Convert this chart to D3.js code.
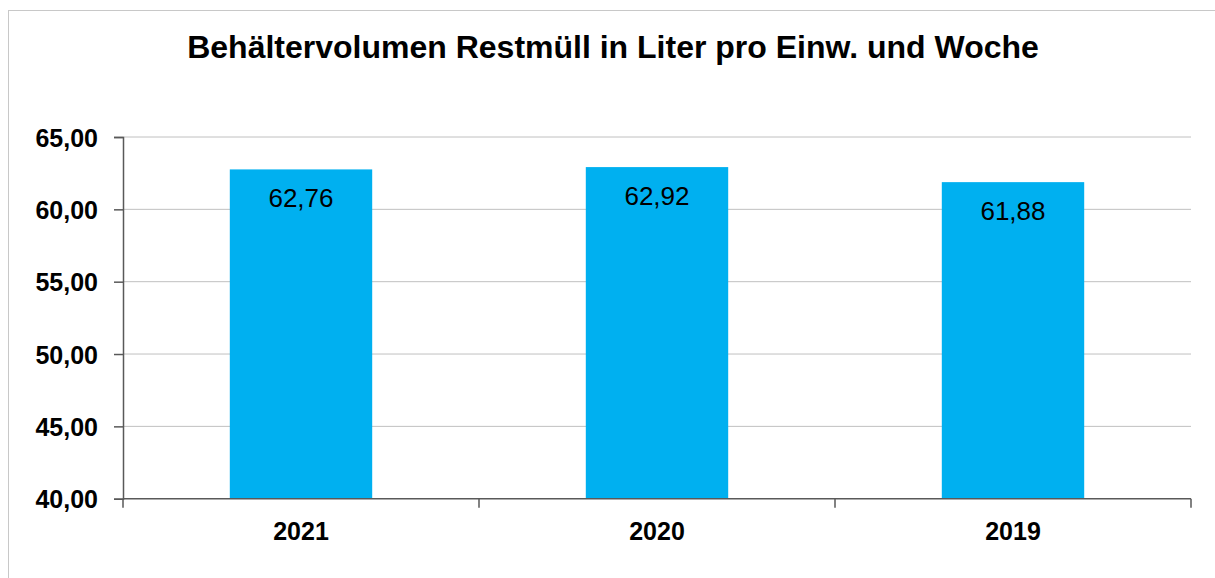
<!DOCTYPE html>
<html>
<head>
<meta charset="utf-8">
<script src="https://cdn.jsdelivr.net/npm/d3@7"></script>
<style>
  body { margin: 0; background: #fff; }
  text { font-family: "Liberation Sans", Arial, sans-serif; fill: #000; }
</style>
</head>
<body>
<svg id="chart" width="1215" height="578"></svg>
<script>
// data
var years = ["2021", "2020", "2019"];
var volumes = [62.76, 62.92, 61.88];
var yTicks = [40, 45, 50, 55, 60, 65];
var chartTitle = "Behältervolumen Restmüll in Liter pro Einw. und Woche";

var svg = d3.select("#chart");

// outer frame, runs off the right and bottom edges like the screenshot
svg.append("rect")
    .attr("x", 8.5).attr("y", 10.5)
    .attr("width", 1230).attr("height", 590)
    .style("fill", "none")
    .style("stroke", "#c8c8c8")
    .style("stroke-width", 1);

var plotLeft = 123, plotRight = 1191, plotTop = 137, plotBottom = 498.7;

var x = d3.scaleBand()
    .domain(years)
    .range([plotLeft, plotRight])
    .paddingInner(0.6)
    .paddingOuter(0.3);

var y = d3.scaleLinear()
    .domain([40, 65])
    .range([plotBottom, plotTop]);

var fmt = function (d) { return d3.format(".2f")(d).replace(".", ","); };

// grid lines
svg.append("g").selectAll("line")
    .data(yTicks.filter(function (d) { return d > 40; }))
    .enter().append("line")
    .attr("x1", plotLeft).attr("x2", plotRight)
    .attr("y1", function (d) { return y(d); })
    .attr("y2", function (d) { return y(d); })
    .style("stroke", "#c0c0c0")
    .style("stroke-width", 1);

// bars
svg.append("g").selectAll("rect")
    .data(volumes)
    .enter().append("rect")
    .attr("x", function (d, i) { return x(years[i]); })
    .attr("y", function (d) { return y(d); })
    .attr("width", x.bandwidth())
    .attr("height", function (d) { return plotBottom - y(d); })
    .style("fill", "#00b0f0");

// value labels inside the bars
svg.append("g").selectAll("text")
    .data(volumes)
    .enter().append("text")
    .attr("x", function (d, i) { return x(years[i]) + x.bandwidth() / 2; })
    .attr("y", function (d) { return y(d) + 38; })
    .attr("text-anchor", "middle")
    .style("font-size", "26px")
    .text(fmt);

// y axis
var yAxis = d3.axisLeft(y)
    .tickValues(yTicks)
    .tickSize(9)
    .tickPadding(16)
    .tickFormat(fmt);

var gy = svg.append("g")
    .attr("transform", "translate(" + plotLeft + ",0)")
    .call(yAxis);
gy.select(".domain").style("stroke", "#595959").style("stroke-width", 1.5);
gy.selectAll(".tick line").style("stroke", "#595959").style("stroke-width", 1.5);
gy.selectAll(".tick text")
    .style("font-size", "25px")
    .style("font-weight", "bold")
    .style("font-family", "'Liberation Sans', Arial, sans-serif")
    .style("fill", "#000")
    .attr("dy", "0.36em");

// x axis: ticks between categories
var xEdges = d3.scaleLinear().domain([0, years.length]).range([plotLeft, plotRight]);
svg.append("line")
    .attr("x1", plotLeft).attr("x2", plotRight)
    .attr("y1", plotBottom).attr("y2", plotBottom)
    .style("stroke", "#595959").style("stroke-width", 1.5);
svg.append("g").selectAll("line")
    .data(d3.range(years.length + 1))
    .enter().append("line")
    .attr("x1", function (d) { return xEdges(d); })
    .attr("x2", function (d) { return xEdges(d); })
    .attr("y1", plotBottom).attr("y2", plotBottom + 9)
    .style("stroke", "#595959").style("stroke-width", 1.5);

svg.append("g").selectAll("text")
    .data(years)
    .enter().append("text")
    .attr("x", function (d) { return x(d) + x.bandwidth() / 2; })
    .attr("y", 540)
    .attr("text-anchor", "middle")
    .style("font-size", "25px")
    .style("font-weight", "bold")
    .text(function (d) { return d; });

// title
svg.append("text")
    .attr("x", 613)
    .attr("y", 58)
    .attr("text-anchor", "middle")
    .style("font-size", "32px")
    .style("font-weight", "bold")
    .text(chartTitle);
</script>
</body>
</html>
